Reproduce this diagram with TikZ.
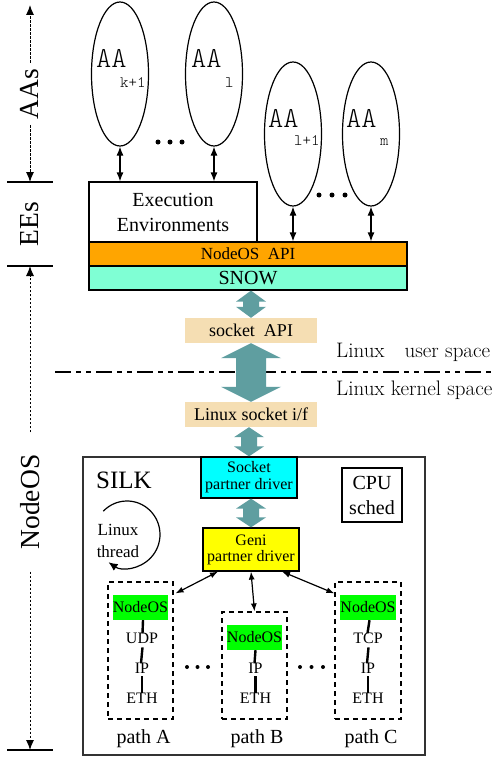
\documentclass[tikz,border=0pt]{standalone}
\usepackage{fontspec}
\newfontfamily\tnr{Liberation Serif}
\newfontfamily\thinmono{Latin Modern Mono Light}
\usetikzlibrary{arrows.meta,shapes.geometric,calc}

\definecolor{apiorange}{RGB}{255,165,0}
\definecolor{snowaqua}{RGB}{127,255,212}
\definecolor{sockcyan}{RGB}{0,255,255}
\definecolor{geniyellow}{RGB}{255,255,0}
\definecolor{osgreen}{RGB}{0,255,0}
\definecolor{wheatbox}{RGB}{245,222,179}
\definecolor{pipe}{RGB}{95,158,160}

% fat two-headed pipe between two stacked nodes
\newcommand\pipearrow[5]{%
  \fill[pipe] let \p1=(#1.south), \p2=(#2.north) in
    (\x2,\y1) -- (\x2+#4,\y1-#5) -- (\x2+#3,\y1-#5) -- (\x2+#3,\y2+#5)
    -- (\x2+#4,\y2+#5) -- (\x2,\y2) -- (\x2-#4,\y2+#5) -- (\x2-#3,\y2+#5)
    -- (\x2-#3,\y1-#5) -- (\x2-#4,\y1-#5) -- cycle;}

\tikzset{
  box/.style={draw=black, line width=1.2pt, inner sep=0pt, align=center},
  plain/.style={inner sep=0pt, align=center},
  aa/.style={ellipse, draw=black, line width=1.2pt, inner sep=0pt,
             minimum width=57pt, minimum height=144pt},
  aatext/.style={inner sep=0pt, anchor=base west, font=\fontsize{29}{29}\selectfont\thinmono},
  aasub/.style={inner sep=0pt, anchor=base west, font=\fontsize{16}{16}\selectfont\thinmono},
  side/.style={inner sep=0pt, rotate=90, font=\fontsize{27.5}{27.5}\selectfont\tnr},
  dimline/.style={line width=1pt, dash pattern=on 2.5pt off 1.5pt,
                  -{Latex[length=10pt,width=8pt]}},
  tick/.style={line width=1.2pt},
  conn/.style={line width=1.2pt,
               {Latex[length=9pt,width=7pt]}-{Latex[length=9pt,width=7pt]}},
  sconn/.style={line width=1.2pt,
               {Latex[length=8pt,width=6pt]}-{Latex[length=8pt,width=6pt]}},
  layer/.style={inner sep=0pt, anchor=base, font=\fontsize{16}{16}\selectfont\tnr},
  stackline/.style={line width=2.4pt},
  pathbox/.style={draw=black, line width=1.2pt, dash pattern=on 5pt off 4pt, inner sep=0pt},
  osbox/.style={fill=osgreen, inner sep=0pt, minimum width=55pt, minimum height=25pt,
                font=\fontsize{16}{16}\selectfont\tnr},
  lm/.style={inner sep=0pt, anchor=base west, font=\fontsize{21}{21}\selectfont},
}

\begin{document}
\begin{tikzpicture}[x=1pt,y=-1pt]
\fill[white] (0,0) rectangle (493,760);
\useasboundingbox (0,0) rectangle (493,760);

% ---------- side scale ----------
\draw[tick] (7,182) -- (53,182);
\draw[tick] (7,266) -- (53,266);
\draw[tick] (7,750) -- (53,750);
\coordinate (aasTop) at (30,5);
\coordinate (aasBot) at (30,182);
\coordinate (nosTop) at (30,266);
\coordinate (nosBot) at (30,750);
\node[side, inner xsep=6pt] (lblAAs) at (30,94) {AAs};
\node[side] (lblEEs) at (30,224) {EEs};
\node[side, inner xsep=22pt] (lblNOS) at (30,502) {NodeOS};
\draw[dimline] (lblAAs) -- (aasTop);
\draw[dimline] (lblAAs) -- (aasBot);
\draw[dimline] (lblNOS) -- (nosTop);
\draw[dimline] (lblNOS) -- (nosBot);

% ---------- active applications ----------
\node[aa] (aak)  at (120,74)  {};
\node[aa] (aal)  at (214,74)  {};
\node[aa] (aal1) at (293,134) {};
\node[aa] (aam)  at (371,134) {};
\node[aatext] (tk)   at (96,67)   {AA};
\node[aasub]  (sk)   at (120,87)  {k+1};
\node[aatext] (tl)   at (191,67)  {AA};
\node[aasub]  (sl)   at (225,87)  {l};
\node[aatext] (tl1)  at (268,127) {AA};
\node[aasub]  (sl1)  at (294,145) {l+1};
\node[aatext] (tm)   at (346,127) {AA};
\node[aasub]  (sm)   at (380,145) {m};
\foreach \x in {158,170,182} \fill (\x,142) circle (2.5);
\foreach \x in {319,332,345} \fill (\x,195) circle (2.5);

% ---------- EE and NodeOS interface ----------
\node[box, minimum width=168pt, minimum height=60pt,
      font=\fontsize{20}{25}\selectfont\tnr] (ee) at (173,212) {Execution\\Environments};
\node[box, fill=apiorange, minimum width=318pt, minimum height=24pt,
      font=\fontsize{17}{17}\selectfont\tnr] (api) at (248,254) {NodeOS\ \ API};
\node[box, fill=snowaqua, minimum width=318pt, minimum height=24pt,
      font=\fontsize{20}{20}\selectfont\tnr] (snow) at (248,278) {SNOW};

\draw[conn] (aak.south) -- (aak.south |- ee.north);
\draw[conn] (aal.south) -- (aal.south |- ee.north);
\draw[conn] (aal1.south) -- (aal1.south |- api.north);
\draw[conn] (aam.south) -- (aam.south |- api.north);

% ---------- socket layers ----------
\node[plain, fill=wheatbox, minimum width=132pt, minimum height=25pt,
      font=\fontsize{18}{18}\selectfont\tnr] (sapi) at (251,330.5) {socket\ \ API};
\node[plain, fill=wheatbox, minimum width=132pt, minimum height=25pt,
      font=\fontsize{18}{18}\selectfont\tnr] (lsif) at (251,414.5) {Linux socket i/f};

\coordinate (kbL) at (55,372);
\coordinate (kbR) at (493,372);
\draw[line width=1.3pt, dash pattern=on 16pt off 5pt on 5pt off 5pt on 5pt off 5pt] (kbL) -- (kbR);
\node[lm] (userlbl) at (336,357) {Linux\hspace{20pt}user space};
\node[lm] (kernlbl) at (336,395) {Linux kernel space};

% ---------- SILK ----------
\node[draw=black!80, line width=1.5pt, inner sep=0pt, minimum width=342pt,
      minimum height=298pt] (silk) at (254,606) {};
\node[inner sep=0pt, anchor=base west, font=\fontsize{25}{25}\selectfont\tnr] (silklbl) at (96,488) {SILK};
\node[box, fill=sockcyan, minimum width=96pt, minimum height=41pt,
      font=\fontsize{16}{17}\selectfont\tnr] (spd) at (249,477.5) {Socket\\partner driver};
\node[box, fill=geniyellow, minimum width=96pt, minimum height=43pt,
      font=\fontsize{16}{16}\selectfont\tnr] (gpd) at (251,549.5) {Geni\\partner driver};
\node[box, minimum width=60pt, minimum height=54pt,
      font=\fontsize{20}{25}\selectfont\tnr] (cpu) at (372,495) {CPU\\sched};

\node[plain, font=\fontsize{17}{22}\selectfont\tnr] (thr) at (118,541) {Linux\\thread};
\draw[line width=1.2pt, -{Latex[length=9pt,width=8pt]}]
  (127,534.5) ++(224:33 and 33.5) arc[start angle=224, end angle=484, x radius=33, y radius=33.5];

\pipearrow{snow}{sapi}{8pt}{15pt}{11pt}
\pipearrow{sapi}{lsif}{15pt}{30pt}{15pt}
\pipearrow{lsif}{spd}{8pt}{15pt}{10pt}
\pipearrow{spd}{gpd}{8pt}{15pt}{10pt}

% ---------- protocol paths ----------
\node[pathbox, minimum width=65pt, minimum height=137pt] (pA) at (140.5,650.5) {};
\node[pathbox, minimum width=65pt, minimum height=107pt] (pB) at (254.5,665.5) {};
\node[pathbox, minimum width=66pt, minimum height=137pt] (pC) at (368,650.5) {};

\node[osbox] (osA) at (140.5,607.5) {NodeOS};
\node[layer] (udpA) at (142,643) {UDP};
\node[layer] (ipA)  at (142,673) {IP};
\node[layer] (ethA) at (142,703) {ETH};
\draw[stackline] ([xshift=2.5pt]osA.south) -- ([xshift=0.5pt,yshift=-1pt]udpA.north);
\draw[stackline] ([xshift=0.5pt,yshift=-4pt]udpA.south) -- ([xshift=-1pt,yshift=-1pt]ipA.north);
\draw[stackline] ([yshift=-3pt]ipA.south) -- ([yshift=-1pt]ethA.north);

\node[osbox] (osB) at (254.5,637.5) {NodeOS};
\node[layer] (ipB)  at (255.5,673) {IP};
\node[layer] (ethB) at (255.5,703) {ETH};
\draw[stackline] ([xshift=1pt]osB.south) -- ([xshift=-1pt,yshift=-1pt]ipB.north);
\draw[stackline] ([yshift=-3pt]ipB.south) -- ([yshift=-1pt]ethB.north);

\node[osbox, minimum width=56pt] (osC) at (368,607.5) {NodeOS};
\node[layer] (tcpC) at (368,643) {TCP};
\node[layer] (ipC)  at (368,673) {IP};
\node[layer] (ethC) at (368,703) {ETH};
\draw[stackline] ([xshift=1.5pt]osC.south) -- ([xshift=-0.5pt,yshift=-1pt]tcpC.north);
\draw[stackline] ([xshift=0.5pt,yshift=-4pt]tcpC.south) -- ([xshift=-1pt,yshift=-1pt]ipC.north);
\draw[stackline] ([yshift=-3pt]ipC.south) -- ([yshift=-1pt]ethC.north);

\foreach \x in {187,197.5,208} \fill (\x,667) circle (2);
\foreach \x in {300,311.5,323} \fill (\x,667) circle (2);

\node[inner sep=0pt, anchor=base, font=\fontsize{20}{20}\selectfont\tnr] (labA) at (143.5,743) {path A};
\node[inner sep=0pt, anchor=base, font=\fontsize{20}{20}\selectfont\tnr] (labB) at (257,743) {path B};
\node[inner sep=0pt, anchor=base, font=\fontsize{20}{20}\selectfont\tnr] (labC) at (371,743) {path C};

\draw[sconn] ([xshift=-33pt]gpd.south) -- ([xshift=2pt,yshift=-12pt]pA.north east);
\draw[sconn] (gpd.south) -- (pB.north);
\draw[sconn] ([xshift=31pt]gpd.south) -- ([yshift=-12pt]pC.north west);
\end{tikzpicture}
\end{document}
